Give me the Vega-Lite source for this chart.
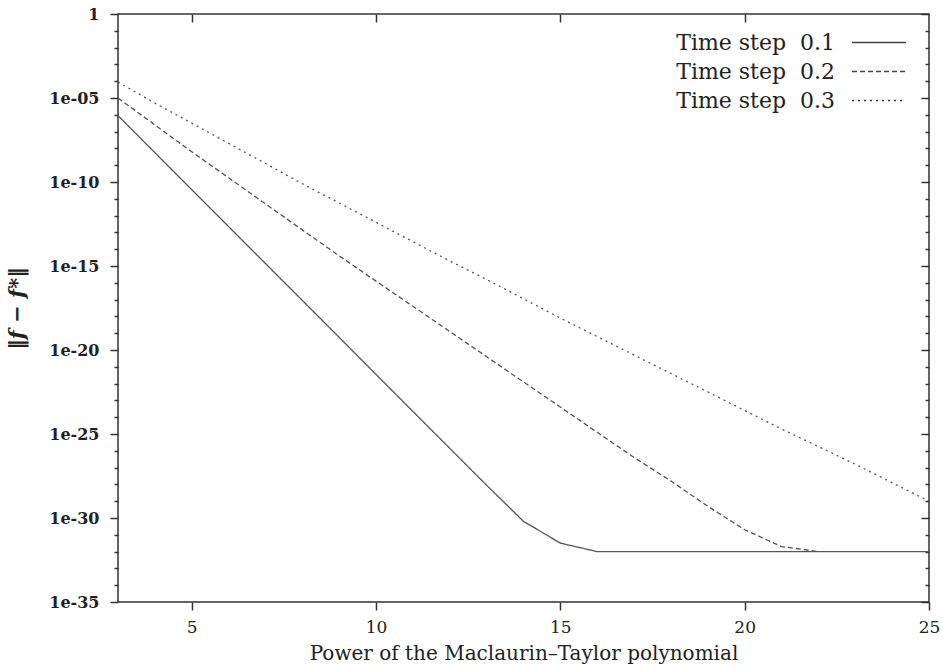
{
  "$schema": "https://vega.github.io/schema/vega-lite/v6.json",
  "width": 811,
  "height": 588,
  "autosize": {"type": "none"},
  "padding": {"left": 118, "top": 14, "right": 14, "bottom": 66},
  "background": "white",
  "config": {
    "font": "DejaVu Serif",
    "view": {"stroke": "#333", "strokeWidth": 1.5},
    "axis": {"grid": false, "domain": false, "tickColor": "#333", "tickWidth": 1.5, "labelColor": "#222", "titleColor": "#222"}
  },
  "data": {
    "values": [
      {"n": 3, "err": 8.9e-7, "s": "Time step\u00a0\u00a00.1"},
      {"n": 4, "err": 5.6e-9, "s": "Time step\u00a0\u00a00.1"},
      {"n": 5, "err": 3.5e-11, "s": "Time step\u00a0\u00a00.1"},
      {"n": 6, "err": 2.2e-13, "s": "Time step\u00a0\u00a00.1"},
      {"n": 7, "err": 1.4e-15, "s": "Time step\u00a0\u00a00.1"},
      {"n": 8, "err": 8.9e-18, "s": "Time step\u00a0\u00a00.1"},
      {"n": 9, "err": 5.6e-20, "s": "Time step\u00a0\u00a00.1"},
      {"n": 10, "err": 3.5e-22, "s": "Time step\u00a0\u00a00.1"},
      {"n": 11, "err": 2.2e-24, "s": "Time step\u00a0\u00a00.1"},
      {"n": 12, "err": 1.4e-26, "s": "Time step\u00a0\u00a00.1"},
      {"n": 13, "err": 8.9e-29, "s": "Time step\u00a0\u00a00.1"},
      {"n": 14, "err": 6.3e-31, "s": "Time step\u00a0\u00a00.1"},
      {"n": 15, "err": 3.2e-32, "s": "Time step\u00a0\u00a00.1"},
      {"n": 16, "err": 1.0e-32, "s": "Time step\u00a0\u00a00.1"},
      {"n": 17, "err": 1.0e-32, "s": "Time step\u00a0\u00a00.1"},
      {"n": 18, "err": 1.0e-32, "s": "Time step\u00a0\u00a00.1"},
      {"n": 19, "err": 1.0e-32, "s": "Time step\u00a0\u00a00.1"},
      {"n": 20, "err": 1.0e-32, "s": "Time step\u00a0\u00a00.1"},
      {"n": 21, "err": 1.0e-32, "s": "Time step\u00a0\u00a00.1"},
      {"n": 22, "err": 1.0e-32, "s": "Time step\u00a0\u00a00.1"},
      {"n": 23, "err": 1.0e-32, "s": "Time step\u00a0\u00a00.1"},
      {"n": 24, "err": 1.0e-32, "s": "Time step\u00a0\u00a00.1"},
      {"n": 25, "err": 1.0e-32, "s": "Time step\u00a0\u00a00.1"},
      {"n": 3, "err": 1.0e-5, "s": "Time step\u00a0\u00a00.2"},
      {"n": 4, "err": 2.5e-7, "s": "Time step\u00a0\u00a00.2"},
      {"n": 5, "err": 6.3e-9, "s": "Time step\u00a0\u00a00.2"},
      {"n": 6, "err": 1.78e-10, "s": "Time step\u00a0\u00a00.2"},
      {"n": 7, "err": 5.0e-12, "s": "Time step\u00a0\u00a00.2"},
      {"n": 8, "err": 1.41e-13, "s": "Time step\u00a0\u00a00.2"},
      {"n": 9, "err": 4.0e-15, "s": "Time step\u00a0\u00a00.2"},
      {"n": 10, "err": 1.26e-16, "s": "Time step\u00a0\u00a00.2"},
      {"n": 11, "err": 4.0e-18, "s": "Time step\u00a0\u00a00.2"},
      {"n": 12, "err": 1.26e-19, "s": "Time step\u00a0\u00a00.2"},
      {"n": 13, "err": 4.0e-21, "s": "Time step\u00a0\u00a00.2"},
      {"n": 14, "err": 1.26e-22, "s": "Time step\u00a0\u00a00.2"},
      {"n": 15, "err": 4.0e-24, "s": "Time step\u00a0\u00a00.2"},
      {"n": 16, "err": 1.26e-25, "s": "Time step\u00a0\u00a00.2"},
      {"n": 17, "err": 4.0e-27, "s": "Time step\u00a0\u00a00.2"},
      {"n": 18, "err": 1.58e-28, "s": "Time step\u00a0\u00a00.2"},
      {"n": 19, "err": 5.0e-30, "s": "Time step\u00a0\u00a00.2"},
      {"n": 20, "err": 2.0e-31, "s": "Time step\u00a0\u00a00.2"},
      {"n": 21, "err": 2.0e-32, "s": "Time step\u00a0\u00a00.2"},
      {"n": 22, "err": 1.0e-32, "s": "Time step\u00a0\u00a00.2"},
      {"n": 3, "err": 8.9e-5, "s": "Time step\u00a0\u00a00.3"},
      {"n": 4, "err": 5.0e-6, "s": "Time step\u00a0\u00a00.3"},
      {"n": 5, "err": 3.2e-7, "s": "Time step\u00a0\u00a00.3"},
      {"n": 6, "err": 2.0e-8, "s": "Time step\u00a0\u00a00.3"},
      {"n": 7, "err": 1.26e-9, "s": "Time step\u00a0\u00a00.3"},
      {"n": 8, "err": 7.9e-11, "s": "Time step\u00a0\u00a00.3"},
      {"n": 9, "err": 5.6e-12, "s": "Time step\u00a0\u00a00.3"},
      {"n": 10, "err": 4.0e-13, "s": "Time step\u00a0\u00a00.3"},
      {"n": 11, "err": 2.8e-14, "s": "Time step\u00a0\u00a00.3"},
      {"n": 12, "err": 2.0e-15, "s": "Time step\u00a0\u00a00.3"},
      {"n": 13, "err": 1.58e-16, "s": "Time step\u00a0\u00a00.3"},
      {"n": 14, "err": 1.12e-17, "s": "Time step\u00a0\u00a00.3"},
      {"n": 15, "err": 7.9e-19, "s": "Time step\u00a0\u00a00.3"},
      {"n": 16, "err": 6.3e-20, "s": "Time step\u00a0\u00a00.3"},
      {"n": 17, "err": 5.0e-21, "s": "Time step\u00a0\u00a00.3"},
      {"n": 18, "err": 4.0e-22, "s": "Time step\u00a0\u00a00.3"},
      {"n": 19, "err": 3.2e-23, "s": "Time step\u00a0\u00a00.3"},
      {"n": 20, "err": 2.5e-24, "s": "Time step\u00a0\u00a00.3"},
      {"n": 21, "err": 2.0e-25, "s": "Time step\u00a0\u00a00.3"},
      {"n": 22, "err": 1.78e-26, "s": "Time step\u00a0\u00a00.3"},
      {"n": 23, "err": 1.58e-27, "s": "Time step\u00a0\u00a00.3"},
      {"n": 24, "err": 1.26e-28, "s": "Time step\u00a0\u00a00.3"},
      {"n": 25, "err": 1.0e-29, "s": "Time step\u00a0\u00a00.3"}
    ]
  },
  "layer": [
    {
      "mark": {"type": "line", "color": "#555", "strokeWidth": 1.3},
      "encoding": {
        "x": {
          "field": "n", "type": "quantitative",
          "scale": {"domain": [3, 25], "nice": false, "zero": false},
          "axis": {
            "orient": "bottom", "values": [5, 10, 15, 20, 25], "tickSize": 8,
            "labelFontSize": 17, "labelPadding": 9, "labelFlush": false,
            "title": "Power of the Maclaurin–Taylor polynomial",
            "titleFontSize": 20, "titleFontWeight": "normal", "titlePadding": 8
          }
        },
        "y": {
          "field": "err", "type": "quantitative",
          "scale": {"type": "log", "domain": [1e-35, 1], "nice": false},
          "axis": {
            "orient": "left",
            "values": [1, 1e-1, 1e-2, 1e-3, 1e-4, 1e-5, 1e-6, 1e-7, 1e-8, 1e-9, 1e-10, 1e-11, 1e-12, 1e-13, 1e-14, 1e-15, 1e-16, 1e-17, 1e-18, 1e-19, 1e-20, 1e-21, 1e-22, 1e-23, 1e-24, 1e-25, 1e-26, 1e-27, 1e-28, 1e-29, 1e-30, 1e-31, 1e-32, 1e-33, 1e-34, 1e-35],
            "tickSize": {"condition": {"test": "round(log(datum.value)/LN10) % 5 == 0", "value": 8}, "value": 4},
            "labelExpr": "round(log(datum.value)/LN10) == 0 ? '1' : (round(log(datum.value)/LN10) % 5 == 0 ? '1e-' + (-round(log(datum.value)/LN10) < 10 ? '0' : '') + (-round(log(datum.value)/LN10)) : '')",
            "labelFontSize": 16, "labelFontWeight": "bold", "labelPadding": 11, "labelFlush": false, "labelOverlap": false,
            "title": "‖f − f*‖", "titleFontSize": 21, "titleFontStyle": "italic", "titleFontWeight": "bold", "titlePadding": 21
          }
        },
        "strokeDash": {
          "field": "s", "type": "nominal",
          "scale": {"domain": ["Time step\u00a0\u00a00.1", "Time step\u00a0\u00a00.2", "Time step\u00a0\u00a00.3"], "range": [[1, 0], [5, 3], [2, 4]]},
          "legend": {
            "orient": "none", "legendX": 733, "legendY": 14, "title": null,
            "symbolType": "M-1,0H3", "symbolStrokeColor": "#444", "symbolFillColor": "transparent", "symbolStrokeWidth": 1.3, "symbolSize": 729, "symbolOpacity": 1,
            "rowPadding": 3, "padding": 0,
            "labelFontSize": 22, "labelColor": "#222", "labelAlign": "right", "labelOffset": -45, "labelLimit": 400,
            "encode": {"symbols": {"update": {"strokeOpacity": {"value": 1}, "opacity": {"value": 1}, "stroke": {"value": "#444"}}}}
          }
        }
      }
    },
    {
      "mark": {"type": "point", "opacity": 0},
      "encoding": {
        "x": {
          "field": "n", "type": "quantitative",
          "axis": {"orient": "top", "values": [5, 10, 15, 20], "tickSize": -8, "labels": false, "title": null}
        },
        "y": {
          "field": "err", "type": "quantitative",
          "axis": {
            "orient": "right",
            "values": [1, 1e-1, 1e-2, 1e-3, 1e-4, 1e-5, 1e-6, 1e-7, 1e-8, 1e-9, 1e-10, 1e-11, 1e-12, 1e-13, 1e-14, 1e-15, 1e-16, 1e-17, 1e-18, 1e-19, 1e-20, 1e-21, 1e-22, 1e-23, 1e-24, 1e-25, 1e-26, 1e-27, 1e-28, 1e-29, 1e-30, 1e-31, 1e-32, 1e-33, 1e-34, 1e-35],
            "tickSize": {"condition": {"test": "round(log(datum.value)/LN10) % 5 == 0", "value": -8}, "value": -4},
            "labels": false, "title": null
          }
        }
      }
    }
  ],
  "resolve": {"axis": {"x": "independent", "y": "independent"}}
}
